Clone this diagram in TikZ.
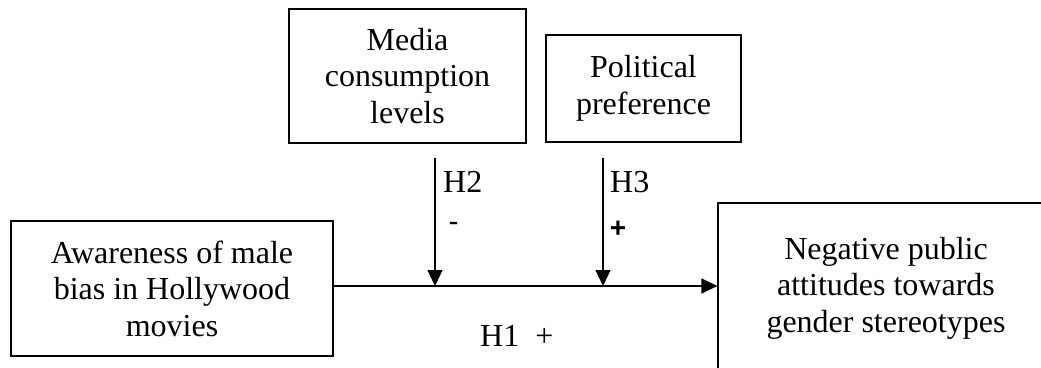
\documentclass[tikz,border=0pt]{standalone}
\usepackage{fontspec}
\setmainfont{Liberation Serif}
\newfontfamily\smallsans{Liberation Sans}
\usetikzlibrary{arrows.meta}
\tikzset{
  varbox/.style={draw, line width=1.2pt, inner sep=0pt, align=center,
    font=\fontsize{32}{36.5}\selectfont},
  lbl/.style={inner sep=0pt, font=\fontsize{32}{36.5}\selectfont},
  sign/.style={inner sep=0pt, font=\smallsans\bfseries\fontsize{28}{30}\selectfont},
  conn/.style={line width=1.2pt, -{Triangle[length=16pt,width=15pt]}}
}
\begin{document}
\begin{tikzpicture}[x=1pt,y=-1pt]
\useasboundingbox (0,0) rectangle (1041,367);
\clip (0,0) rectangle (1041,367);
\node[varbox, minimum width=322pt, minimum height=135pt] (aware) at (172,288.5)
  {Awareness of male\\bias in Hollywood\\movies};
\node[varbox, minimum width=237pt, minimum height=134pt] (media) at (407.5,76)
  {Media\\consumption\\levels};
\node[varbox, minimum width=195pt, minimum height=107pt] (polit) at (643.5,88.5)
  {Political\\preference};
\node[varbox, minimum width=336pt, minimum height=170pt] (neg) at (886,288)
  {Negative public\\attitudes towards\\gender stereotypes};
\coordinate (mstart) at (aware.east |- 0,286);
\coordinate (mend) at (neg.west |- 0,286);
\draw[conn] (mstart) -- (mend);
\coordinate (h2s) at (435,158);
\coordinate (h2e) at (435,286);
\coordinate (h3s) at (603,158);
\coordinate (h3e) at (603,286);
\draw[conn] (h2s) -- (h2e);
\draw[conn] (h3s) -- (h3e);
\node[lbl, anchor=base west] (h2) at (443,192) {H2};
\node[lbl, anchor=base west] (h3) at (610,192) {H3};
\node[sign, font=\smallsans\fontsize{30}{32}\selectfont] (minus) at (453.5,227) {-};
\node[sign] (plus) at (618,229) {+};
\node[lbl, anchor=base west] (h1) at (480,346) {H1\hspace{16pt}+};
\end{tikzpicture}
\end{document}
